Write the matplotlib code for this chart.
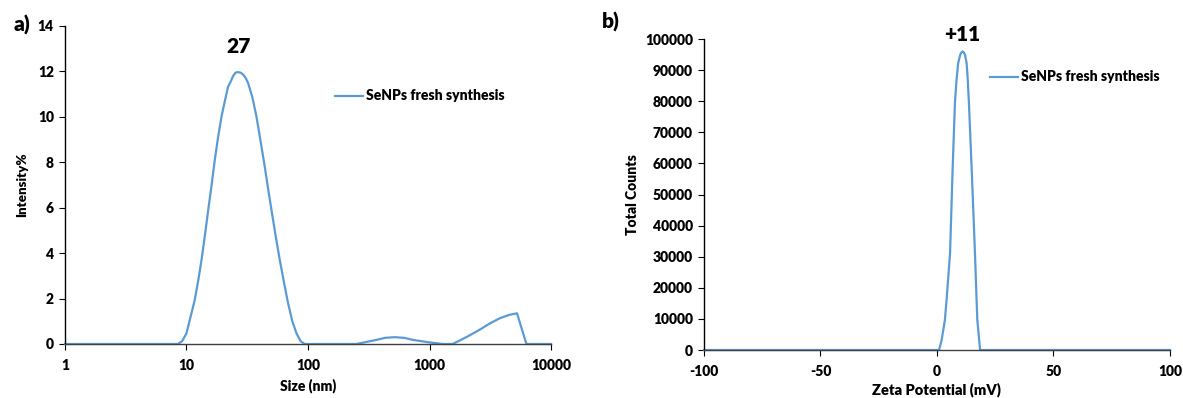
import matplotlib.pyplot as plt
from matplotlib.ticker import FixedLocator, NullLocator

plt.rcParams['font.family'] = ['Lato', 'DejaVu Sans']
plt.rcParams['font.weight'] = 'heavy'
plt.rcParams['axes.unicode_minus'] = False

# DLS size distribution (intensity)
size_nm = [1, 8.5, 9.2, 10, 11.7, 12.5, 13.3, 14.2, 15.1, 16.1, 17.1, 18.2, 19.4, 20.7,
           22.0, 23.1, 24.2, 25.4, 26.6, 28.0, 29.4, 30.8, 32.2, 34.9, 37.7, 40.8, 44.1,
           47.7, 51.6, 55.0, 58.6, 63.5, 68.6, 74.3, 80.4, 87, 94,
           250, 365, 430, 516, 620, 730, 1000, 1280,
           1550, 2040, 2570, 3150, 3775, 4500, 5250, 6270, 10000]
intensity = [0, 0, 0.12, 0.47, 1.94, 2.8, 3.7, 4.8, 5.9, 7.0, 8.1, 9.1, 10.0, 10.7,
             11.33, 11.55, 11.8, 11.95, 11.97, 11.94, 11.85, 11.7, 11.48, 10.85, 10.0, 8.9, 7.8,
             6.6, 5.46, 4.55, 3.7, 2.7, 1.79, 1.0, 0.47, 0.12, 0,
             0, 0.18, 0.27, 0.30, 0.27, 0.18, 0.07, 0,
             0, 0.32, 0.62, 0.91, 1.13, 1.28, 1.35, 0, 0]

# zeta potential distribution
zeta_mv = [-100, 0.9, 2.0, 3.4, 4.2, 5.6, 6.7, 7.7, 8.4, 9.1, 10.0, 10.5, 11.0, 11.5,
           12.0, 12.7, 13.2, 13.7, 14.9, 16.3, 17.3, 18.5, 100]
counts = [0, 0, 3200, 9700, 17000, 31000, 58000, 79500, 87000, 92300, 95000, 95700, 96000,
          95700, 95000, 92300, 87000, 79500, 58000, 31000, 9700, 0, 0]

series_label = 'SeNPs fresh synthesis'
size_peak = '27'
zeta_peak = '+11'
line_color = '#5B9BD5'
weight = 'heavy'

fig = plt.figure(figsize=(11.83, 3.98), dpi=100)
ax1 = fig.add_axes([0.0549, 0.1357, 0.4109, 0.799])
ax2 = fig.add_axes([0.5951, 0.1206, 0.3939, 0.7814])

for ax in (ax1, ax2):
    for s in ('top', 'right'):
        ax.spines[s].set_visible(False)
    ax.spines['left'].set_linewidth(1.0)
    ax.spines['bottom'].set_linewidth(1.0)
    ax.spines['bottom'].set_color('#404040')
    ax.tick_params(direction='out', length=4, width=0.8, labelsize=10, colors='black')
    ax.tick_params(axis='x', pad=7)
    ax.tick_params(axis='y', pad=4)

# a) size
ax1.plot(size_nm, intensity, color=line_color, lw=1.6, label=series_label, clip_on=False)
ax1.set_xscale('log')
ax1.set_xlim(1, 10000)
ax1.set_ylim(0, 14)
ax1.xaxis.set_major_locator(FixedLocator([1, 10, 100, 1000, 10000]))
ax1.xaxis.set_minor_locator(NullLocator())
ax1.set_xticklabels(['1', '10', '100', '1000', '10000'])
ax1.set_yticks(range(0, 15, 2))
ax1.text(27, 13.1, size_peak, ha='center', va='center', fontsize=15, fontweight=weight)
ax1.legend(loc='center left', bbox_to_anchor=(0.556, 0.78), frameon=False,
           handlelength=2.0, handletextpad=0.25, borderpad=0, borderaxespad=0,
           prop={'size': 10, 'weight': weight})

# b) zeta potential
ax2.plot(zeta_mv, counts, color=line_color, lw=1.6, label=series_label, clip_on=False)
ax2.set_xlim(-100, 100)
ax2.set_ylim(0, 100000)
ax2.set_xticks([-100, -50, 0, 50, 100])
ax2.set_yticks(range(0, 100001, 10000))
ax2.text(11, 101500, zeta_peak, ha='center', va='center', fontsize=15, fontweight=weight)
ax2.legend(loc='center left', bbox_to_anchor=(0.614, 0.878), frameon=False,
           handlelength=2.0, handletextpad=0.25, borderpad=0, borderaxespad=0,
           prop={'size': 10, 'weight': weight})

fig.text(0.0186, 0.937, 'a)', ha='center', va='center', fontsize=15, fontweight=weight)
fig.text(0.516, 0.945, 'b)', ha='center', va='center', fontsize=15, fontweight=weight)
fig.text(0.2603, 0.030, 'Size (nm)', ha='center', va='center', fontsize=10, fontweight=weight)
fig.text(0.792, 0.022, 'Zeta Potential (mV)', ha='center', va='center', fontsize=10.5,
         fontweight=weight)
fig.text(0.0186, 0.535, 'Intensity%', ha='center', va='center', rotation=90, fontsize=9.5,
         fontweight=weight)
fig.text(0.535, 0.51, 'Total Counts', ha='center', va='center', rotation=90, fontsize=10,
         fontweight=weight)

fig.savefig('out.png', dpi=100)
